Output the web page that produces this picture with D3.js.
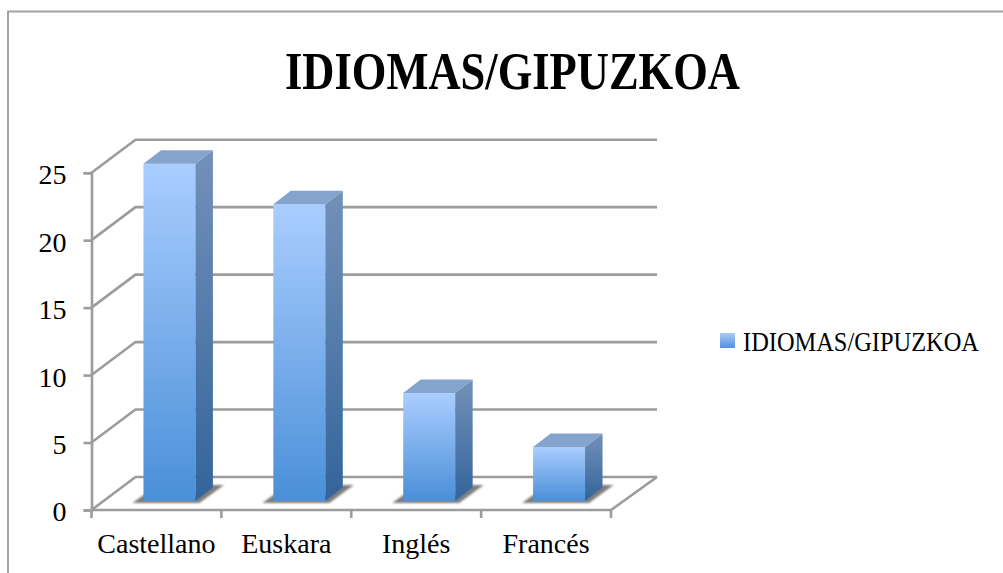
<!DOCTYPE html>
<html><head><meta charset="utf-8">
<script src="https://cdn.jsdelivr.net/npm/d3@7/dist/d3.min.js"></script>
<style>html,body{margin:0;padding:0;background:#fff}svg{display:block}
text{font-family:"Liberation Serif",serif;fill:#000}</style></head><body>
<svg id="c" width="1003" height="573"></svg>
<script>
const chartTitle="IDIOMAS/GIPUZKOA";
const categories=["Castellano","Euskara","Inglés","Francés"];
const values=[25,22,8,4];
const yTicks=[0,5,10,15,20,25];
const W=1003,H=573,grid="#9c9c9c";
const svg=d3.select("#c");
const x=d3.scaleBand().domain(categories).range([91.5,611]).paddingInner(.6).paddingOuter(.3);
const y=d3.scaleLinear().domain([0,25]).range([510,172.7]);
const dx=45,dy=-33;          // chart-box depth
const bx=17.5,by=-13.5;      // bar depth
const sx=13,sy=-9;           // bar offset inside the floor
const defs=svg.append("defs");
function grad(id,a,b){const g=defs.append("linearGradient").attr("id",id).attr("x1",0).attr("y1",0).attr("x2",0).attr("y2",1);
 g.append("stop").attr("offset",0).attr("stop-color",a);g.append("stop").attr("offset",1).attr("stop-color",b);}
grad("front","#aacdff","#4a8fd8");grad("side","#7391b9","#33649b");grad("leg","#a9ccfa","#4f93da");
defs.append("filter").attr("id","blur").attr("x","-20%").attr("y","-50%").attr("width","140%").attr("height","200%")
 .append("feGaussianBlur").attr("stdDeviation",1.3);

// outer frame
svg.append("path").attr("d",`M8,${H}V11.5H${W}`).attr("fill","none").attr("stroke","#a4a4a4").attr("stroke-width",2);

// walls and floor
const g=svg.append("g").attr("fill","none").attr("stroke",grid).attr("stroke-width",2.6);
g.selectAll("path.wall").data(yTicks).join("path").attr("class","wall")
 .attr("d",v=>`M91.5,${y(v)}L${91.5+dx-1},${y(v)+dy}H${657}`);
g.append("line").attr("x1",611).attr("y1",y(0)).attr("x2",657).attr("y2",y(0)+dy);

// axes
const yAxis=d3.axisLeft(y).tickValues(yTicks).tickSize(8).tickPadding(17);
const ya=svg.append("g").attr("transform","translate(91.5,0)").call(yAxis);
const xEdges=d3.range(5).map(i=>91.5+i*x.step());
const xa=svg.append("g").attr("transform",`translate(0,${y(0)})`);
xa.append("path").attr("d","M91.5,0H611");
xa.selectAll("line").data(xEdges).join("line").attr("x1",d=>d).attr("x2",d=>d).attr("y1",0).attr("y2",8);
xa.selectAll("text").data(categories).join("text").attr("x",d=>x(d)+x.bandwidth()/2).attr("y",43).attr("text-anchor","middle").attr("font-size",28).text(d=>d);
[ya,xa].forEach(a=>{a.selectAll("path,line").attr("stroke",grid).attr("stroke-width",2.6).attr("fill","none");});
ya.selectAll("text").attr("font-size",28).attr("font-family","Liberation Serif").attr("fill","#000").attr("y",2);

// bars
const b=svg.append("g").selectAll("g").data(categories.map((c,i)=>({c,v:values[i]}))).join("g");
const L=d=>x(d.c)+sx,R=d=>L(d)+x.bandwidth(),B=()=>y(0)+sy,T=d=>y(d.v)+sy;
b.append("path").attr("filter","url(#blur)").attr("fill","#707070").attr("opacity",.9)
 .attr("d",d=>`M${L(d)-11},${B()+2}L${L(d)},${B()-6}H${R(d)}L${R(d)+bx},${B()-16}H${R(d)+bx+11}L${R(d)+4},${B()+2}Z`);
b.append("rect").attr("x",L).attr("y",T).attr("width",x.bandwidth()).attr("height",d=>B()-T(d)).attr("fill","url(#front)");
b.append("path").attr("fill","url(#side)").attr("d",d=>`M${R(d)},${T(d)}l${bx},${by}V${B()+by}L${R(d)},${B()}Z`);
b.append("path").attr("fill","#84a3cd").attr("d",d=>`M${L(d)},${T(d)}l${bx},${by}H${R(d)+bx}L${R(d)},${T(d)}Z`);

// title
svg.append("text").attr("x",285).attr("y",89).attr("font-size",52).attr("font-weight","bold")
 .attr("textLength",455).attr("lengthAdjust","spacingAndGlyphs").text(chartTitle);
// legend
svg.append("rect").attr("x",720).attr("y",333).attr("width",15).attr("height",15).attr("fill","url(#leg)");
svg.append("text").attr("x",743).attr("y",351).attr("font-size",27)
 .attr("textLength",236).attr("lengthAdjust","spacingAndGlyphs").text(chartTitle);
</script></body></html>
